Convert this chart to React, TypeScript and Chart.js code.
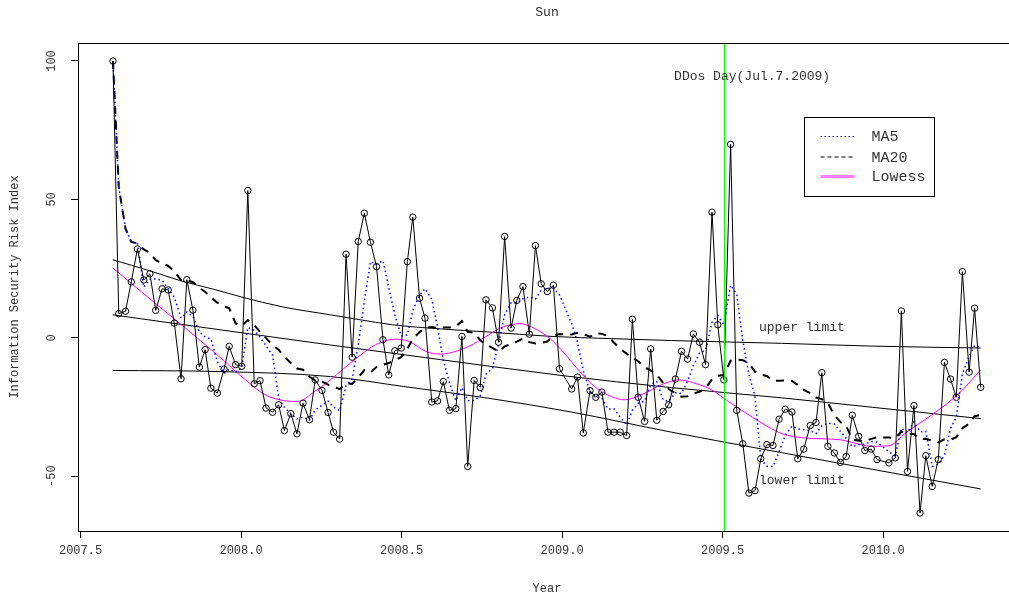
import React, { useEffect, useRef } from "react";
import { Chart, registerables } from "chart.js";

Chart.register(...registerables);

// ---------- data ----------
const titleText = "Sun";
const xAxisTitle = "Year";
const yAxisTitle = "Information Security Risk Index";

const years = [
  2007.601, 2007.619, 2007.640, 2007.658, 2007.677, 2007.697, 2007.716, 2007.734, 2007.754, 2007.773,
  2007.792, 2007.813, 2007.831, 2007.850, 2007.870, 2007.888, 2007.906, 2007.926, 2007.947, 2007.963,
  2007.983, 2008.002, 2008.021, 2008.041, 2008.059, 2008.078, 2008.098, 2008.117, 2008.135, 2008.155,
  2008.174, 2008.193, 2008.213, 2008.231, 2008.252, 2008.271, 2008.288, 2008.307, 2008.327, 2008.346,
  2008.365, 2008.384, 2008.403, 2008.422, 2008.442, 2008.460, 2008.479, 2008.499, 2008.518, 2008.535,
  2008.556, 2008.573, 2008.594, 2008.612, 2008.630, 2008.649, 2008.669, 2008.688, 2008.706, 2008.726,
  2008.745, 2008.763, 2008.783, 2008.802, 2008.821, 2008.841, 2008.859, 2008.878, 2008.898, 2008.917,
  2008.935, 2008.954, 2008.973, 2008.992, 2009.030, 2009.048, 2009.066, 2009.087, 2009.105, 2009.124,
  2009.143, 2009.162, 2009.181, 2009.201, 2009.219, 2009.237, 2009.257, 2009.276, 2009.295, 2009.315,
  2009.332, 2009.353, 2009.372, 2009.391, 2009.409, 2009.428, 2009.447, 2009.467, 2009.485, 2009.504,
  2009.525, 2009.544, 2009.563, 2009.582, 2009.601, 2009.619, 2009.638, 2009.657, 2009.676, 2009.695,
  2009.716, 2009.734, 2009.753, 2009.773, 2009.791, 2009.809, 2009.828, 2009.848, 2009.867, 2009.885,
  2009.904, 2009.924, 2009.943, 2009.963, 2009.981, 2010.018, 2010.038, 2010.057, 2010.076, 2010.096,
  2010.115, 2010.133, 2010.153, 2010.172, 2010.191, 2010.210, 2010.228, 2010.247, 2010.268, 2010.285,
  2010.304,
];

const riskIndex = [
  100, 8.7, 9.6, 20.2, 32.1, 20.9, 23.1, 9.9, 17.7, 17.3,
  5.3, -14.8, 21.0, 10.0, -10.6, -4.3, -18.2, -20.0, -11.3, -3.1,
  -9.7, -10.3, 53.2, -16.6, -15.5, -25.4, -26.9, -24.2, -33.5, -27.4,
  -34.7, -23.6, -29.6, -15.2, -19.0, -27.0, -34.1, -36.6, 30.2, -7.0,
  34.8, 45.0, 34.5, 25.7, -0.7, -13.4, -4.7, -3.7, 27.5, 43.6,
  14.3, 7.1, -23.2, -22.8, -15.8, -26.2, -25.6, 0.5, -46.5, -15.4,
  -17.9, 13.7, 10.8, -1.6, 36.6, 3.5, 13.5, 18.5, 1.3, 33.3,
  19.5, 16.7, 19.0, -11.2, -18.5, -14.2, -34.4, -19.1, -21.5, -19.6,
  -34.1, -34.1, -34.1, -35.3, 6.7, -21.5, -30.2, -4.0, -29.8, -26.6,
  -24.2, -14.9, -4.9, -7.7, 1.4, -1.6, -9.7, 45.4, 4.7, -15.2,
  69.9, -26.2, -38.3, -56.1, -55.2, -43.7, -38.6, -38.9, -29.4, -25.8,
  -26.8, -43.7, -40.2, -31.7, -30.6, -12.6, -39.2, -41.6, -45.0, -42.9,
  -28.0, -35.6, -40.7, -40.2, -44.0, -45.2, -43.4, 9.7, -48.3, -24.5,
  -63.3, -42.6, -53.7, -44.0, -8.9, -14.9, -21.5, 23.9, -12.4, 10.7,
  -17.9,
];

const lowessYears = [
  2007.600, 2007.700, 2007.809, 2007.919, 2008.022, 2008.075, 2008.128, 2008.178, 2008.222, 2008.278,
  2008.315, 2008.367, 2008.419, 2008.481, 2008.523, 2008.575, 2008.622, 2008.669, 2008.710, 2008.763,
  2008.815, 2008.867, 2008.919, 2008.966, 2008.997, 2009.059, 2009.101, 2009.153, 2009.195, 2009.247,
  2009.309, 2009.362, 2009.413, 2009.466, 2009.518, 2009.570, 2009.622, 2009.684, 2009.756, 2009.862,
  2009.966, 2010.018, 2010.070, 2010.122, 2010.174, 2010.237, 2010.304,
];
const lowessValues = [
  25.3, 15.6, 5.2, -5.5, -16.0, -20.6, -22.6, -23.0, -20.0, -15.2,
  -11.6, -6.7, -2.5, -0.5, -1.3, -4.9, -5.9, -4.9, -3.1, 0.5,
  3.9, 5.1, 3.1, -0.7, -4.3, -12.7, -17.6, -21.2, -22.4, -20.6,
  -17.0, -15.2, -16.4, -18.8, -23.0, -27.0, -30.8, -34.6, -36.2, -36.8,
  -39.2, -39.0, -34.4, -30.2, -26.0, -20.0, -11.6,
];

const upperYears = [
  2007.600, 2007.716, 2007.809, 2007.919, 2008.006, 2008.128, 2008.278, 2008.366, 2008.472, 2008.622,
  2008.769, 2008.966, 2009.153, 2009.341, 2009.684, 2009.966, 2010.304,
];
const upperLimit = [
  28.2, 24.2, 20.7, 17.4, 14.6, 11.2, 8.3, 6.6, 4.7, 3.2,
  2.1, 0.5, -0.3, -1.0, -2.0, -3.0, -3.7,
];

const centerYears = [2007.600, 2007.934, 2008.278, 2008.622, 2008.997, 2009.341, 2009.684, 2009.966, 2010.304];
const centerLine = [8.3, 2.9, -2.6, -7.9, -13.6, -18.0, -21.7, -25.1, -29.2];

const lowerYears = [
  2007.600, 2007.934, 2008.278, 2008.506, 2008.769, 2009.028, 2009.341, 2009.684, 2009.966, 2010.304,
];
const lowerLimit = [-11.8, -12.2, -14.0, -17.6, -21.8, -26.8, -34.1, -41.5, -47.5, -54.6];

const xTicks = [2007.5, 2008.0, 2008.5, 2009.0, 2009.5, 2010.0];
const yTicks = [-50, 0, 50, 100];
const xRange = [2007.492, 2010.414];
const yRange = [-69.8, 106.5];

const ddosYear = 2009.506;
const annotations = [
  { text: "DDos Day(Jul.7.2009)", x: 2009.592, y: 94.2 },
  { text: "upper limit", x: 2009.747, y: 3.6 },
  { text: "lower limit", x: 2009.747, y: -51.6 },
];
const legendAnchor = { x: 2009.754, y: 79.8 };

const FONT = "'Liberation Mono', 'DejaVu Sans Mono', monospace";
const TEXT = "#333333";

function trailingMean(values: number[], windowSize: number): number[] {
  return values.map((_, i) => {
    const part = values.slice(Math.max(0, i - windowSize + 1), i + 1);
    return part.reduce((a, b) => a + b, 0) / part.length;
  });
}

function pts(xs: number[], ys: number[]) {
  return xs.map((x, i) => ({ x, y: ys[i] }));
}

export default function App() {
  const ref = useRef<HTMLCanvasElement | null>(null);

  useEffect(() => {
    const canvas = ref.current;
    if (!canvas) return;
    const ma5 = trailingMean(riskIndex, 5);
    const ma20 = trailingMean(riskIndex, 20);

    const overlay = {
      id: "overlay",
      afterDraw(chart: any) {
        const { ctx, chartArea: ca } = chart;
        const xs = chart.scales.x;
        const ys = chart.scales.y;
        ctx.save();
        // plot box
        ctx.strokeStyle = "#000";
        ctx.lineWidth = 1;
        ctx.setLineDash([]);
        ctx.strokeRect(
          Math.round(ca.left) + 0.5,
          Math.round(ca.top) + 0.5,
          Math.round(ca.right - ca.left),
          Math.round(ca.bottom - ca.top)
        );
        // title
        ctx.fillStyle = TEXT;
        ctx.textAlign = "center";
        ctx.textBaseline = "middle";
        ctx.font = `13px ${FONT}`;
        ctx.fillText(titleText, (ca.left + ca.right) / 2, 13);
        // annotations
        ctx.font = `13px ${FONT}`;
        annotations.forEach((a) => {
          ctx.fillText(a.text, xs.getPixelForValue(a.x), ys.getPixelForValue(a.y));
        });
        // legend
        const lx = Math.round(xs.getPixelForValue(legendAnchor.x)) + 0.5;
        const ly = Math.round(ys.getPixelForValue(legendAnchor.y)) + 0.5;
        ctx.strokeStyle = "#000";
        ctx.lineWidth = 1;
        ctx.strokeRect(lx, ly, 130, 79);
        const items = [
          { ds: chart.data.datasets[1], dy: 19, dash: [1.5, 2.5], width: 1.2, color: "#0000ff" },
          { ds: chart.data.datasets[2], dy: 39.5, dash: [4, 3], width: 1, color: "#000000" },
          { ds: chart.data.datasets[3], dy: 59, dash: [], width: 3, color: "#ff80ff" },
        ];
        ctx.font = `15px ${FONT}`;
        ctx.textAlign = "left";
        items.forEach((it) => {
          ctx.beginPath();
          ctx.setLineDash(it.dash);
          ctx.lineWidth = it.width;
          ctx.strokeStyle = it.color;
          ctx.moveTo(lx + 16, ly + it.dy);
          ctx.lineTo(lx + 50, ly + it.dy);
          ctx.stroke();
          ctx.setLineDash([]);
          ctx.fillStyle = TEXT;
          ctx.fillText(it.ds.label, lx + 67, ly + it.dy + 1);
        });
        ctx.restore();
      },
    };

    const chart = new Chart(canvas, {
      type: "line",
      data: {
        datasets: [
          {
            label: "Index",
            data: pts(years, riskIndex),
            borderColor: "#000",
            borderWidth: 1,
            pointRadius: 3.2,
            pointHoverRadius: 3.2,
            pointBorderWidth: 1,
            pointBorderColor: "#000",
            pointBackgroundColor: "rgba(0,0,0,0)",
            tension: 0,
            order: 1,
          },
          {
            label: "MA5",
            data: pts(years, ma5),
            borderColor: "#0000ff",
            borderWidth: 1.5,
            borderDash: [1.5, 3],
            pointRadius: 0,
            tension: 0,
            order: 2,
          },
          {
            label: "MA20",
            data: pts(years, ma20),
            borderColor: "#000",
            borderWidth: 2,
            borderDash: [8, 7],
            pointRadius: 0,
            tension: 0,
            order: 3,
          },
          {
            label: "Lowess",
            data: pts(lowessYears, lowessValues),
            borderColor: "#ff00ff",
            borderWidth: 1,
            pointRadius: 0,
            cubicInterpolationMode: "monotone",
            order: 4,
          },
          {
            label: "upper",
            data: pts(upperYears, upperLimit),
            borderColor: "#000",
            borderWidth: 1,
            pointRadius: 0,
            cubicInterpolationMode: "monotone",
            order: 5,
          },
          {
            label: "center",
            data: pts(centerYears, centerLine),
            borderColor: "#000",
            borderWidth: 1,
            pointRadius: 0,
            cubicInterpolationMode: "monotone",
            order: 5,
          },
          {
            label: "lower",
            data: pts(lowerYears, lowerLimit),
            borderColor: "#000",
            borderWidth: 1,
            pointRadius: 0,
            cubicInterpolationMode: "monotone",
            order: 5,
          },
          {
            label: "DDos",
            data: [
              { x: ddosYear, y: yRange[0] },
              { x: ddosYear, y: yRange[1] },
            ],
            borderColor: "#00ff00",
            borderWidth: 1.2,
            pointRadius: 0,
            order: 0,
          },
        ] as any,
      },
      options: {
        animation: false,
        responsive: false,
        devicePixelRatio: 1,
        events: [],
        layout: { autoPadding: false, padding: { left: 0, top: 43, right: 14, bottom: 0 } },
        plugins: {
          legend: { display: false },
          tooltip: { enabled: false },
          title: { display: false },
        },
        scales: {
          x: {
            type: "linear",
            min: xRange[0],
            max: xRange[1],
            afterBuildTicks: (s: any) => {
              s.ticks = xTicks.map((v) => ({ value: v }));
            },
            afterFit: (s: any) => {
              s.height = 68;
            },
            ticks: {
              autoSkip: false,
              maxRotation: 0,
              minRotation: 0,
              padding: 6,
              color: TEXT,
              font: { family: FONT, size: 12 },
              callback: (v: any) => Number(v).toFixed(1),
            },
            grid: {
              drawOnChartArea: false,
              drawTicks: true,
              tickLength: 7,
              tickColor: "#000",
              tickWidth: 1,
            },
            border: { display: false },
            title: {
              display: true,
              text: xAxisTitle,
              color: TEXT,
              font: { family: FONT, size: 12 },
              padding: { top: 0, bottom: 3 },
            },
          },
          y: {
            type: "linear",
            min: yRange[0],
            max: yRange[1],
            afterBuildTicks: (s: any) => {
              s.ticks = yTicks.map((v) => ({ value: v }));
            },
            afterFit: (s: any) => {
              s.width = 78;
            },
            ticks: {
              autoSkip: false,
              minRotation: 90,
              maxRotation: 90,
              crossAlign: "center",
              padding: 8,
              color: TEXT,
              font: { family: FONT, size: 12 },
              callback: (v: any) => String(v),
            },
            grid: {
              drawOnChartArea: false,
              drawTicks: true,
              tickLength: 7,
              tickColor: "#000",
              tickWidth: 1,
            },
            border: { display: false },
            title: {
              display: true,
              text: yAxisTitle,
              color: TEXT,
              font: { family: FONT, size: 12 },
              padding: { top: 8, bottom: 0 },
            },
          },
        },
      } as any,
      plugins: [overlay],
    });

    return () => chart.destroy();
  }, []);

  return (
    <div
      style={{
        position: "fixed",
        left: 0,
        top: 0,
        width: 1009,
        height: 599,
        overflow: "hidden",
        background: "#fff",
      }}
    >
      <canvas ref={ref} width={1030} height={599} style={{ display: "block" }} />
    </div>
  );
}
